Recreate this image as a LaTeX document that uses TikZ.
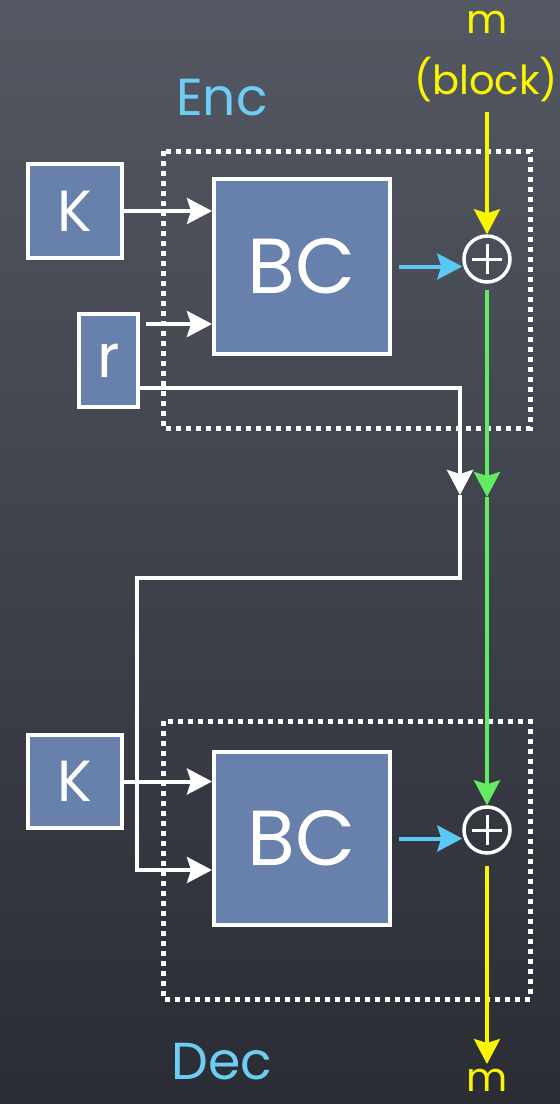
\documentclass[tikz,border=0pt]{standalone}
\usepackage{fontspec}
\setmainfont{Poppins}
\usetikzlibrary{arrows.meta}
\definecolor{boxblue}{RGB}{104,128,172}
\definecolor{bgtop}{RGB}{84,88,98}
\definecolor{bgbot}{RGB}{42,45,52}
\definecolor{yel}{RGB}{250,245,0}
\definecolor{grn}{RGB}{100,235,100}
\definecolor{cy}{RGB}{90,200,245}
\definecolor{lbl}{RGB}{110,205,245}
\begin{document}
\begin{tikzpicture}[x=1pt,y=-1pt,
  box/.style={draw=white,line width=4pt,fill=boxblue,inner sep=0pt,text=white},
  wire/.style={white,line width=4pt},
  arr/.style={-{Stealth[length=25pt,width=26pt,inset=4pt]}},
  dotbox/.style={white,line width=5pt,dash pattern=on 5pt off 5pt},
  xor/.style={circle,draw=white,line width=3.5pt,minimum size=46pt,inner sep=0pt},
  plusline/.style={white,line width=3pt},
  lab/.style={text=lbl,font=\fontsize{52}{56}\selectfont},
  ylab/.style={text=yel,font=\fontsize{40}{44}\selectfont,inner sep=0pt}]
\fill[top color=bgtop,bottom color=bgbot] (0,0) rectangle (560,1104);
\useasboundingbox (0,0) rectangle (560,1104);
% dotted frames
\draw[dotbox] (163,151) rectangle (530,428);
\draw[dotbox] (163,721) rectangle (530,999);
% labels
\node[lab] (enc) at (222,98) {Enc};
\node[lab] (dec) at (222,1062) {Dec};
\node[ylab] (mt) at (487,22) {m};
\node[ylab] (blk) at (486,80) {(block)};
\node[ylab] (mb) at (487,1080) {m};
% boxes
\node[box,minimum width=94pt,minimum height=94pt,font=\fontsize{58}{60}\selectfont] (kt) at (75,211) {K};
\node[box,minimum width=59pt,minimum height=93pt,font=\fontsize{60}{62}\selectfont] (r) at (108.5,360.5) {r};
\node[box,minimum width=176pt,minimum height=175pt,font=\fontsize{78}{80}\selectfont] (bct) at (302,266.5) {BC};
\node[box,minimum width=94pt,minimum height=93pt,font=\fontsize{58}{60}\selectfont] (kd) at (75,781.5) {K};
\node[box,minimum width=176pt,minimum height=173pt,font=\fontsize{78}{80}\selectfont] (bcd) at (302,838.5) {BC};
% xor nodes
\node[xor] (xt) at (487,259) {};
\node[xor] (xd) at (487,830) {};
\draw[plusline] ([xshift=-15pt]xt.center) -- ([xshift=15pt]xt.center);
\draw[plusline] ([yshift=-15pt]xt.center) -- ([yshift=15pt]xt.center);
\draw[plusline] ([xshift=-15pt]xd.center) -- ([xshift=15pt]xd.center);
\draw[plusline] ([yshift=-15pt]xd.center) -- ([yshift=15pt]xd.center);
% coordinates
\coordinate (ytop) at (487,112);
\coordinate (gs) at (487,290);
\coordinate (gm) at (487,497);
\coordinate (yb) at (487,866);
\coordinate (ye) at (487,1064);
\coordinate (rs) at (146,324);
\coordinate (c1) at (460,388);
\coordinate (c2) at (460,495);
\coordinate (c3) at (460,578);
\coordinate (c4) at (137,578);
\coordinate (c5) at (137,870);
% white wires
\draw[wire,arr] (kt.east) -- (bct.west|-kt.east);
\draw[wire,arr] (rs) -- (bct.west|-rs);
\draw[wire,arr] (r.east|-c1) -- (c1) -- (c2);
\draw[wire,arr] (c2) -- (c3) -- (c4) -- (c5) -- (bcd.west|-c5);
\draw[wire,arr] (kd.east) -- (bcd.west|-kd.east);
% blue arrows
\draw[cy,line width=4pt,arr] ([xshift=7pt]bct.east) -- (xt.west|-bct.east);
\draw[cy,line width=4pt,arr] ([xshift=7pt]bcd.east) -- (xd.west|-bcd.east);
% yellow
\draw[yel,line width=4pt,arr] (ytop) -- (xt.north);
\draw[yel,line width=4pt,arr] (yb) -- (ye);
% green
\draw[grn,line width=4pt,arr] (gs) -- (gm);
\draw[grn,line width=4pt,arr] (gm) -- (xd.north);
\end{tikzpicture}
\end{document}
